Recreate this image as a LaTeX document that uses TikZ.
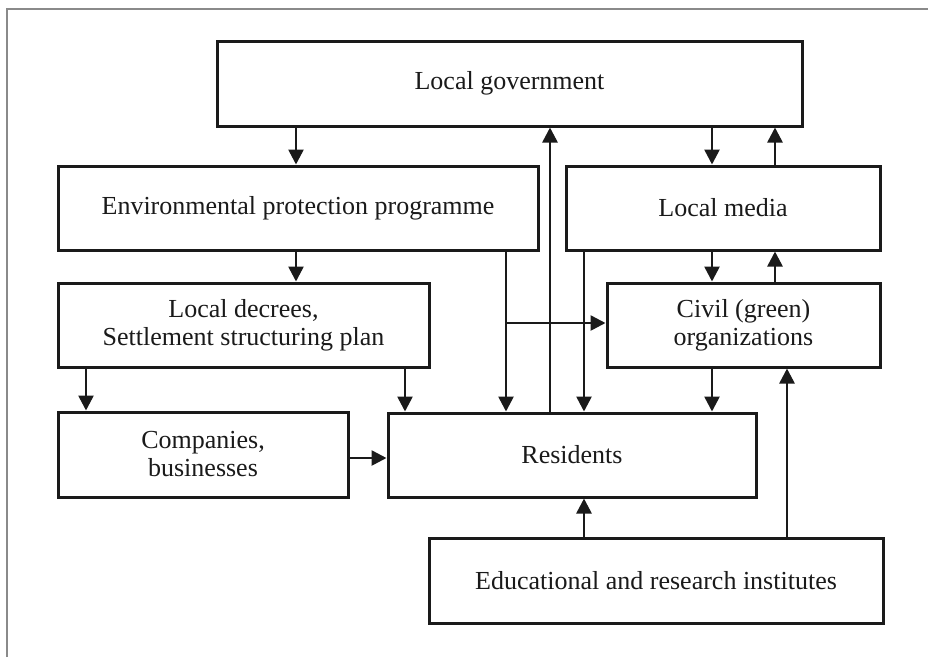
\documentclass[tikz,border=0pt]{standalone}
\usepackage{fontspec}
\setmainfont{Liberation Serif}
\usetikzlibrary{arrows.meta}
\definecolor{ink}{HTML}{1A1A1A}
\definecolor{framegray}{HTML}{8A8A8A}
\tikzset{
  box/.style={draw=ink, line width=3pt, rectangle, inner sep=0pt, align=center,
    font=\fontsize{26}{28}\selectfont, text=ink},
  arr/.style={draw=ink, line width=2.6pt, -{Triangle[length=15pt,width=15pt]}},
}
\begin{document}
\begin{tikzpicture}[x=1pt,y=-1pt]
\useasboundingbox (0,0) rectangle (928,657);
\fill[white] (0,0) rectangle (928,657);
\draw[framegray, line width=2pt] (7,657) -- (7,9) -- (928,9);

\node[box, minimum width=585pt, minimum height=85pt] (lg)   at (509.5,83.5) {Local government};
\node[box, minimum width=480pt, minimum height=84pt] (epp)  at (298,208) {Environmental protection programme};
\node[box, minimum width=314pt, minimum height=84pt] (lm)   at (723,208) {Local media};
\node[box, minimum width=371pt, minimum height=84pt] (ld)   at (243.5,325) {Local decrees,\\Settlement structuring plan};
\node[box, minimum width=273pt, minimum height=84pt] (civ)  at (743.5,325) {Civil (green)\\organizations};
\node[box, minimum width=290pt, minimum height=85pt] (comp) at (203,454.5) {Companies,\\businesses};
\node[box, minimum width=368pt, minimum height=84pt] (res)  at (572,455) {Residents};
\node[box, minimum width=454pt, minimum height=85pt] (edu)  at (656,580.5) {Educational and research institutes};

\coordinate (j) at (506,323);

\draw[arr] (296,0 |- lg.south) -- (296,0 |- epp.north);
\draw[arr] (712,0 |- lg.south) -- (712,0 |- lm.north);
\draw[arr] (775,0 |- lm.north) -- (775,0 |- lg.south);
\draw[arr] (296,0 |- epp.south) -- (296,0 |- ld.north);
\draw[arr] (86,0 |- ld.south) -- (86,0 |- comp.north);
\draw[arr] (405,0 |- ld.south) -- (405,0 |- res.north);
\draw[arr] (comp.east |- 0,458) -- (res.west |- 0,458);
\draw[arr] (506,0 |- epp.south) -- (506,0 |- res.north);
\draw[arr] (550,0 |- res.north) -- (550,0 |- lg.south);
\draw[arr] (584,0 |- lm.south) -- (584,0 |- res.north);
\draw[arr] (j) -- (civ.west |- j);
\draw[arr] (712,0 |- lm.south) -- (712,0 |- civ.north);
\draw[arr] (775,0 |- civ.north) -- (775,0 |- lm.south);
\draw[arr] (712,0 |- civ.south) -- (712,0 |- res.north);
\draw[arr] (584,0 |- edu.north) -- (584,0 |- res.south);
\draw[arr] (787,0 |- edu.north) -- (787,0 |- civ.south);
\end{tikzpicture}
\end{document}
